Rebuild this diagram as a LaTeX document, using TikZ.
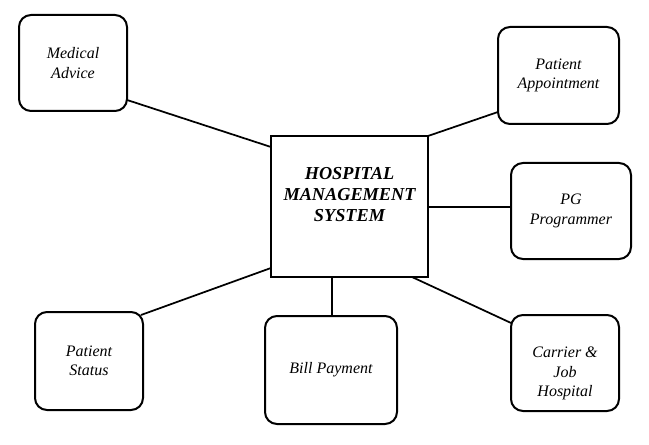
\documentclass[tikz,border=0pt]{standalone}
\usepackage{fontspec}
\setmainfont{Liberation Serif}
\usetikzlibrary{calc}

\begin{document}
\begin{tikzpicture}[x=0.75pt,y=-0.75pt,inner sep=0pt,outer sep=0pt,
    every node/.style={font=\itshape\fontsize{12}{14.5}\selectfont},
    subbox/.style={draw,line width=1.5pt,rounded corners=9pt,align=center,anchor=north west},
    link/.style={line width=1.3pt}]
  \useasboundingbox (0,0) rectangle (649,445);
  % central system
  \node[draw,line width=1.6pt,anchor=north west,minimum width=117.75pt,minimum height=105.75pt] (hms) at (271,136) {};
  \node[align=center,font=\bfseries\itshape\fontsize{13.7}{15.75}\selectfont] (hms_text) at ($(hms.center)+(0,-12)$)
  {HOSPITAL\\MANAGEMENT\\SYSTEM};
  % modules
  \node[subbox,minimum width=81pt,minimum height=72pt] (med) at (19,15) {Medical\\Advice};
  \node[subbox,minimum width=90.75pt,minimum height=72.75pt] (appt) at (498,27) {Patient\\Appointment};
  \node[subbox,minimum width=90pt,minimum height=72pt] (pg) at (511,163) {PG\\Programmer};
  \node[subbox,minimum width=81pt,minimum height=73.5pt] (status) at (35,312) {Patient\\Status};
  \node[subbox,minimum width=99pt,minimum height=81pt] (bill) at (265,316) {Bill Payment};
  \node[subbox,minimum width=81pt,minimum height=72pt,
    label={[name=job_text,align=center,yshift=-8pt]center:Carrier \&\\Job\\Hospital}] (job) at (511,315) {};
  % links
  \draw[link] ($(med.north east)!0.885!(med.south east)$) -- ($(hms.north west)!0.078!(hms.south west)$);
  \draw[link] ($(appt.north west)!0.876!(appt.south west)$) -- (hms.north east);
  \draw[link] (hms.east |- 0,207) -- (pg.west |- 0,207);
  \draw[link] ($(status.north east)+(-2,3)$) -- ($(hms.north west)!0.936!(hms.south west)$);
  \draw[link] (bill.north -| 332,0) -- (hms.south -| 332,0);
  \draw[link] ($(job.north west)!0.083!(job.south west)$) -- ($(hms.south west)!0.898!(hms.south east)$);
\end{tikzpicture}
\end{document}
